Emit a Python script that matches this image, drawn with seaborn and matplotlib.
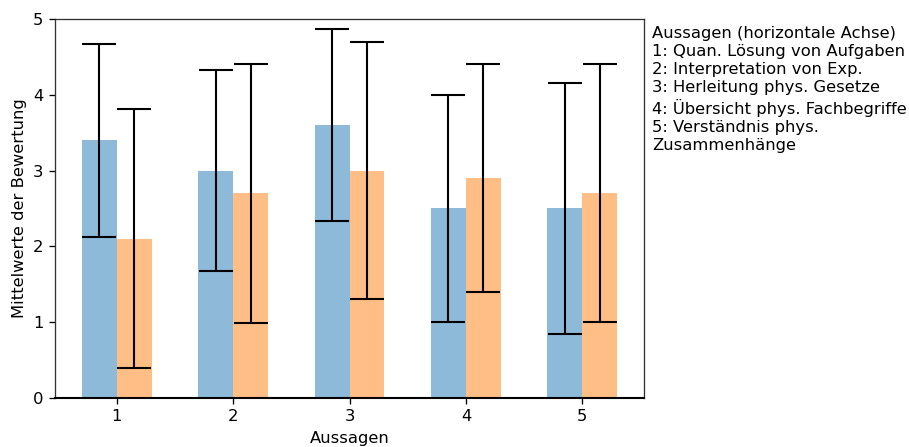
import matplotlib
matplotlib.use("Agg")
import matplotlib.pyplot as plt
import seaborn as sns
import pandas as pd
import numpy as np

aussagen = ["1", "2", "3", "4", "5"]
gruppen = ["A", "B"]
mean_a = [3.4, 3.0, 3.6, 2.5, 2.5]
std_a = [1.27, 1.33, 1.27, 1.5, 1.65]
mean_b = [2.1, 2.7, 3.0, 2.9, 2.7]
std_b = [1.71, 1.71, 1.70, 1.5, 1.70]

legend_text = ("Aussagen (horizontale Achse)\n"
               "1: Quan. Lösung von Aufgaben\n"
               "2: Interpretation von Exp.\n"
               "3: Herleitung phys. Gesetze\n"
               "4: Übersicht phys. Fachbegriffe\n"
               "5: Verständnis phys.\n"
               "Zusammenhänge")

plt.rcParams["font.size"] = 11.8

df = pd.DataFrame({
    "Aussage": aussagen * 2,
    "Gruppe": [gruppen[0]] * 5 + [gruppen[1]] * 5,
    "Mittelwert": mean_a + mean_b,
})

fig = plt.figure(figsize=(9.09, 4.47), dpi=100)
ax = fig.add_axes([0.0605, 0.1096, 0.648, 0.848])

sns.barplot(data=df, x="Aussage", y="Mittelwert", hue="Gruppe",
            palette=["#1f77b4", "#ff7f0e"], alpha=0.5, saturation=1,
            width=0.6, linewidth=0, legend=False, errorbar=None, ax=ax)

pos = np.arange(len(aussagen))
ax.errorbar(pos - 0.15, mean_a, yerr=std_a, fmt="none", ecolor="black",
            capsize=12, elinewidth=1.5, capthick=1.5)
ax.errorbar(pos + 0.15, mean_b, yerr=std_b, fmt="none", ecolor="black",
            capsize=12, elinewidth=1.5, capthick=1.5)

ax.set_xlim(-0.53, 4.53)
ax.set_ylim(0, 5)
ax.set_xlabel("Aussagen", fontsize=11.8, labelpad=4.7)
ax.set_ylabel("Mittelwerte der Bewertung", fontsize=11.8, labelpad=4.7)
ax.tick_params(labelsize=11.8, length=4.1, width=0.94, pad=4.1)
for s in ["top", "left", "right"]:
    ax.spines[s].set_color("#333333")
    ax.spines[s].set_linewidth(0.94)
ax.spines["bottom"].set_linewidth(1.5)
ax.spines["bottom"].set_color("black")

fig.text(0.717, 0.941, legend_text, va="top", ha="left", fontsize=11.8,
         linespacing=1.25)

fig.savefig("out.png", dpi=100)
